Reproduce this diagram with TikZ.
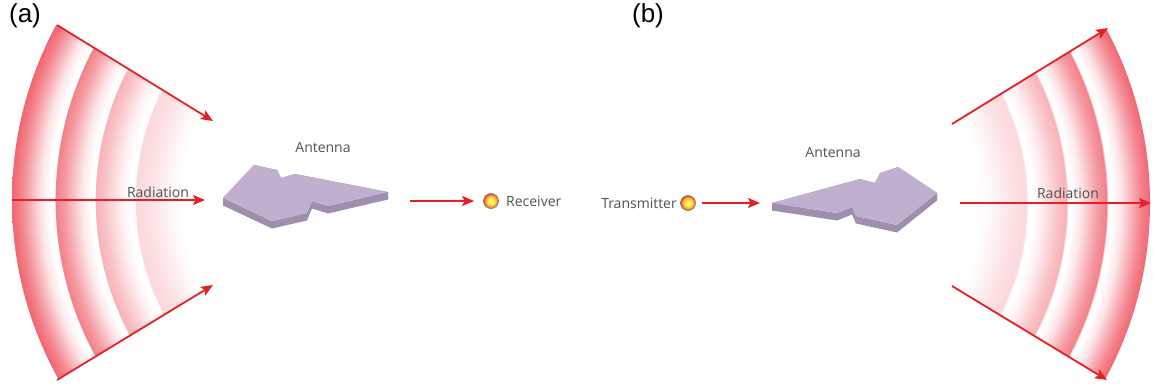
\documentclass[tikz,border=0pt]{standalone}
\usepackage{fontspec}
\setmainfont{Liberation Sans}
\newfontfamily\labelfont{Open Sans}
\usetikzlibrary{arrows.meta}

\definecolor{rayred}{RGB}{228,32,38}
\definecolor{bandred}{RGB}{238,78,92}
\definecolor{antennatop}{RGB}{190,176,206}
\definecolor{antennaside}{RGB}{156,144,172}
\definecolor{labelgrey}{RGB}{80,80,80}
\definecolor{ballrim}{RGB}{230,70,40}
\definecolor{ballmid}{RGB}{250,170,50}
\definecolor{ballcore}{RGB}{255,240,90}

% wave bands: 25bp is the outer radius (368pt); each band fades from red (outside) to white (inside)
\pgfdeclareradialshading{wavefade}{\pgfpoint{0bp}{0bp}}{%
  color(0bp)=(white); color(13.38bp)=(white);
  color(14.16bp)=(bandred!4!white); color(14.95bp)=(bandred!11!white);
  color(15.73bp)=(bandred!18!white); color(16.64bp)=(bandred!22!white);
  color(16.66bp)=(white); color(16.98bp)=(white);
  color(17.58bp)=(bandred!8!white); color(18.17bp)=(bandred!22!white);
  color(18.77bp)=(bandred!35!white); color(19.36bp)=(bandred!44!white);
  color(19.38bp)=(white); color(19.63bp)=(white);
  color(20.25bp)=(bandred!13!white); color(20.86bp)=(bandred!36!white);
  color(21.47bp)=(bandred!58!white); color(22.08bp)=(bandred!72!white);
  color(22.10bp)=(white); color(22.42bp)=(white);
  color(23.06bp)=(bandred!15!white); color(23.71bp)=(bandred!43!white);
  color(24.36bp)=(bandred!69!white); color(25bp)=(bandred!86!white);
  color(50bp)=(bandred!86!white)}

% small glowing sphere for transmitter and receiver
\pgfdeclareradialshading{glow}{\pgfpoint{0bp}{0bp}}{%
  color(0bp)=(ballcore); color(9bp)=(ballcore); color(18bp)=(ballmid);
  color(25bp)=(ballrim); color(50bp)=(ballrim)}

\tikzset{
  ray/.style={draw=rayred, line width=1.8pt, -{Stealth[length=12pt,width=10pt,inset=2.5pt]}},
  lbl/.style={font=\labelfont\fontsize{14}{14}\selectfont, text=labelgrey, inner sep=0pt},
  tag/.style={font=\fontsize{26}{26}\selectfont, inner sep=0pt},
  ball/.style={circle, minimum size=15pt, inner sep=0pt, draw=black!50, line width=0.7pt,
    shade, shading=glow},
  antennaface/.style={fill=antennatop},
  antennawall/.style={fill=antennaside},
}

% extruded antenna plate: #1 = prefix of ten named corner coordinates
\newcommand\antennaplate[1]{%
  \foreach \p/\q in {1/2,2/3,3/4,4/5,5/6,6/7,7/8,8/9,9/10,10/1} {%
    \fill[antennawall] (#1\p) -- (#1\q) -- ([yshift=-7.5pt]#1\q) -- ([yshift=-7.5pt]#1\p) -- cycle;
  }%
  \fill[antennaface] (#11) -- (#12) -- (#13) -- (#14) -- (#15) -- (#16) -- (#17) -- (#18) -- (#19) -- (#110) -- cycle;
}

\begin{document}
\begin{tikzpicture}[x=1pt,y=-1pt]
\useasboundingbox (0,0) rectangle (1153,388);

% ---------- (a) receiving ----------
\coordinate (lc) at (380,200);
\coordinate (lt0) at (57,25);   \coordinate (lt1) at (213,121);
\coordinate (lb0) at (57,380);  \coordinate (lb1) at (213,285);
\coordinate (lm0) at (12,200);  \coordinate (lm1) at (205,200);

\begin{scope}
  \clip (lt0) -- (lt1) -- (lb1) -- (lb0) -- (0,380) -- (0,25) -- cycle;
  \shade[shading=wavefade] (lc) circle[radius=368pt];
\end{scope}

\draw[ray] (lt0) -- (lt1);
\draw[ray] (lb0) -- (lb1);
\draw[ray] (lm0) -- (lm1);
\node[lbl] (rada) at (158,192) {Radiation};

\coordinate (pa1) at (223,198);
\coordinate (pa2) at (254,165);
\coordinate (pa3) at (277,170);
\coordinate (pa4) at (281,178);
\coordinate (pa5) at (295,174);
\coordinate (pa6) at (388,192);
\coordinate (pa7) at (328,206);
\coordinate (pa8) at (312,201);
\coordinate (pa9) at (307,213);
\coordinate (pa10) at (272,221);
\antennaplate{pa}
\node[lbl] (anta) at (323,148) {Antenna};

\coordinate (aout) at (410,201);
\node[ball] (rx) at (491,201) {};
\node[lbl, anchor=west] (rxl) at (506,201) {Receiver};
\draw[ray] (aout) -- ([xshift=-9pt]rx.west);

\node[tag] (ta) at (25,16) {(a)};

% ---------- (b) transmitting ----------
\node[tag] (tb) at (648,16) {(b)};

\node[ball] (tx) at (688,203) {};
\node[lbl, anchor=east] (txl) at (677,203) {Transmitter};
\coordinate (bin) at (760,203);
\draw[ray] ([xshift=6pt]tx.east) -- (bin);

\coordinate (pb1) at (937,193);
\coordinate (pb2) at (898,167);
\coordinate (pb3) at (880,173);
\coordinate (pb4) at (875,183);
\coordinate (pb5) at (860,179);
\coordinate (pb6) at (772,203);
\coordinate (pb7) at (837,213);
\coordinate (pb8) at (852,207);
\coordinate (pb9) at (856,216);
\coordinate (pb10) at (897,225);
\antennaplate{pb}
\node[lbl] (antb) at (833,153) {Antenna};

\coordinate (rc) at (782,203);
\coordinate (rt0) at (952,124);  \coordinate (rt1) at (1108,28);
\coordinate (rb0) at (952,286);  \coordinate (rb1) at (1107,380);
\coordinate (rm0) at (960,203);  \coordinate (rm1) at (1151,203);

\begin{scope}
  \clip (rt1) -- (rt0) -- (rb0) -- (rb1) -- (1153,380) -- (1153,28) -- cycle;
  \shade[shading=wavefade] (rc) circle[radius=368pt];
\end{scope}

\draw[ray] (rt0) -- (rt1);
\draw[ray] (rb0) -- (rb1);
\draw[ray] (rm0) -- (rm1);
\node[lbl] (radb) at (1068,193) {Radiation};
\end{tikzpicture}
\end{document}
